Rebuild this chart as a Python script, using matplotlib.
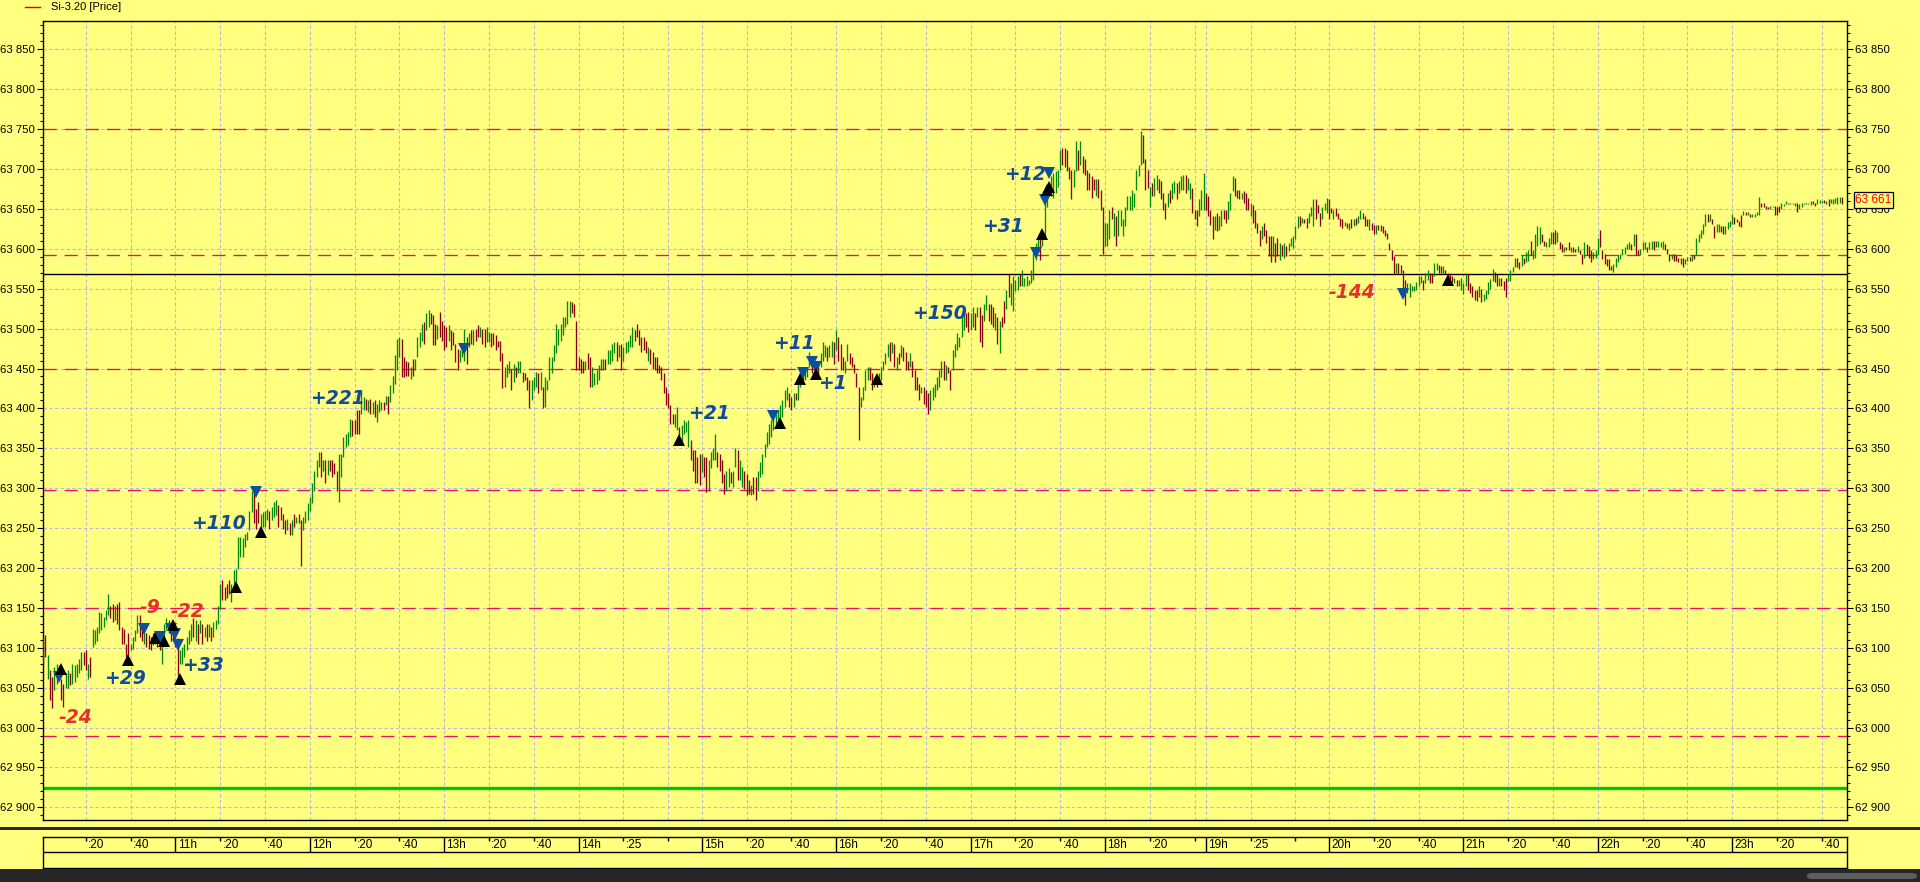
import numpy as np
import matplotlib
matplotlib.use("Agg")
import matplotlib.pyplot as plt
from matplotlib.patches import Rectangle, FancyBboxPatch
from matplotlib.lines import Line2D
from matplotlib.ticker import MultipleLocator, FixedLocator, FuncFormatter

plt.rcParams['font.family'] = ['Liberation Sans', 'DejaVu Sans']

# ---------------- data ----------------
SYMBOL = "Si-3.20 [Price]"
SESSIONS = [("10:00", "14:00"), ("14:05", "18:45"), ("19:05", "23:50")]
FIRST_BAR = "10:01"

HIGH = [
 63112,63116,63091,63072,63063,63076,63080,63078,63061,63055,63068,63072,63068,63080,63078,63080,63086,63095,63095,
 63097,63080,63089,63124,63122,63126,63145,63143,63139,63147,63167,63153,63155,63153,63155,63157,63126,63124,63105,63118,
 63105,63114,63122,63141,63141,63126,63122,63118,63116,63114,63118,63120,63114,63118,63109,63130,63137,63135,63130,63125,
 63118,63112,63097,63101,63105,63114,63122,63130,63137,63135,63130,63135,63130,63126,63130,63130,63126,63132,63135,63153,
 63180,63185,63176,63180,63185,63180,63197,63199,63239,63239,63237,63243,63245,63272,63297,63297,63274,63283,63268,63270,
 63272,63274,63272,63277,63283,63285,63279,63277,63268,63260,63262,63256,63260,63268,63264,63268,63260,63264,63272,63281,
 63289,63306,63322,63335,63345,63345,63335,63335,63335,63335,63335,63331,63322,63343,63343,63364,63368,63370,63387,63385,
 63385,63398,63398,63423,63414,63412,63410,63412,63408,63410,63406,63410,63408,63408,63416,63416,63429,63441,63467,63487,
 63490,63487,63464,63460,63458,63452,63462,63462,63490,63496,63506,63508,63519,63523,63519,63517,63506,63504,63521,63510,
 63504,63502,63504,63498,63496,63481,63475,63473,63477,63500,63490,63494,63498,63498,63500,63504,63502,63500,63500,63502,
 63496,63494,63494,63492,63485,63485,63469,63452,63456,63460,63450,63456,63452,63460,63460,63446,63444,63439,63435,63435,
 63439,63446,63444,63446,63427,63439,63435,63464,63464,63479,63506,63500,63506,63515,63515,63535,63535,63533,63531,63510,
 63464,63462,63460,63460,63469,63464,63452,63444,63448,63454,63462,63462,63462,63473,63473,63481,63483,63483,63479,63481,
 63477,63483,63485,63492,63502,63498,63506,63498,63490,63490,63485,63477,63475,63471,63464,63464,63454,63452,63444,63427,
 63419,63404,63393,63393,63402,63377,63379,63385,63383,63385,63360,63348,63348,63339,63343,63343,63339,63339,63335,63345,
 63350,63368,63345,63343,63335,63318,63322,63325,63320,63322,63350,63348,63335,63327,63322,63318,63310,63304,63314,63314,
 63322,63333,63343,63356,63371,63381,63385,63389,63393,63398,63404,63410,63423,63427,63419,63414,63419,63419,63435,63444,
 63448,63446,63452,63471,63460,63460,63456,63454,63469,63483,63479,63477,63479,63485,63483,63498,63490,63481,63464,63460,
 63481,63469,63464,63456,63444,63427,63414,63427,63448,63452,63452,63444,63439,63439,63444,63452,63460,63469,63481,63483,
 63483,63481,63464,63469,63479,63477,63471,63460,63469,63460,63448,63439,63431,63427,63427,63423,63419,63423,63427,63431,
 63439,63448,63460,63460,63454,63452,63448,63473,63481,63494,63490,63515,63519,63519,63521,63519,63527,63519,63527,63527,
 63517,63531,63542,63531,63531,63527,63519,63515,63510,63515,63534,63549,63568,63557,63566,63561,63566,63568,63574,63563,
 63566,63561,63574,63595,63607,63616,63616,63620,63662,63674,63678,63691,63695,63697,63699,63724,63726,63726,63724,63703,
 63699,63699,63735,63724,63735,63716,63712,63699,63695,63691,63687,63687,63687,63674,63653,63632,63632,63649,63653,63645,
 63641,63649,63649,63637,63653,63666,63666,63674,63670,63699,63705,63748,63743,63712,63699,63678,63682,63689,63693,63687,
 63685,63670,63657,63670,63674,63682,63685,63682,63685,63691,63693,63693,63689,63682,63676,63649,63649,63662,63674,63695,
 63670,63666,63649,63641,63641,63645,63641,63649,63649,63649,63660,63670,63691,63689,63674,63674,63670,63672,63670,63664,
 63657,63655,63649,63632,63624,63628,63632,63624,63616,63616,63616,63607,63614,63607,63605,63607,63603,63607,63614,63616,
 63628,63641,63641,63639,63637,63639,63645,63653,63662,63662,63655,63645,63653,63657,63664,63662,63651,63649,63651,63645,
 63639,63637,63634,63632,63632,63637,63637,63639,63641,63649,63645,63641,63637,63637,63632,63630,63630,63630,63630,63628,
 63624,63620,63607,63599,63591,63582,63582,63580,63574,63561,63557,63557,63553,63553,63559,63566,63566,63561,63570,63574,
 63570,63570,63582,63582,63580,63578,63578,63574,63570,63568,63566,63563,63561,63561,63563,63557,63570,63568,63557,63553,
 63549,63549,63553,63550,63543,63548,63558,63562,63575,63571,63569,63564,63564,63560,63564,63569,63573,63577,63589,63589,
 63583,63592,63589,63596,63598,63610,63598,63619,63629,63627,63619,63610,63608,63614,63621,63621,63623,63621,63608,63606,
 63602,63602,63608,63602,63602,63600,63604,63598,63594,63608,63606,63604,63598,63596,63598,63614,63623,63598,63594,63587,
 63587,63579,63581,63589,63592,63594,63600,63602,63606,63608,63606,63619,63619,63598,63600,63608,63608,63602,63608,63610,
 63610,63610,63610,63608,63610,63606,63600,63594,63594,63594,63592,63589,63589,63589,63587,63590,63590,63592,63592,63614,
 63619,63623,63631,63644,63644,63644,63637,63629,63631,63631,63629,63629,63629,63633,63635,63644,63640,63637,63635,63642,
 63648,63646,63646,63644,63644,63644,63646,63665,63658,63658,63654,63652,63654,63654,63654,63652,63654,63658,63656,63660,
 63658,63658,63658,63658,63658,63656,63658,63658,63658,63658,63660,63660,63658,63662,63661,63660,63661,63660,63662,63662,
 63662,63664,63665,63665,63665,
]

LOW = [
 63080,63089,63061,63034,63024,63047,63055,63061,63034,63026,63049,63049,63053,63055,63057,63063,63068,63072,63078,
 63072,63061,63063,63101,63105,63109,63118,63122,63126,63135,63141,63137,63132,63135,63130,63122,63105,63105,63089,63091,
 63097,63099,63109,63118,63114,63109,63105,63101,63099,63097,63103,63105,63101,63097,63080,63114,63122,63118,63109,63108,
 63101,63057,63080,63080,63089,63097,63105,63109,63114,63109,63105,63118,63105,63114,63109,63114,63109,63114,63124,63130,
 63149,63160,63160,63162,63168,63157,63174,63183,63199,63214,63214,63226,63235,63247,63270,63256,63249,63256,63247,63252,
 63251,63260,63249,63260,63264,63266,63251,63260,63249,63243,63247,63241,63241,63251,63256,63256,63203,63247,63256,63260,
 63272,63281,63297,63314,63327,63314,63322,63306,63316,63322,63314,63318,63297,63283,63314,63339,63352,63354,63364,63366,
 63368,63368,63368,63393,63398,63398,63395,63393,63393,63389,63383,63395,63398,63398,63404,63393,63408,63419,63431,63448,
 63464,63439,63439,63441,63441,63437,63441,63448,63464,63477,63485,63481,63498,63502,63506,63479,63479,63487,63490,63485,
 63473,63477,63485,63473,63479,63458,63448,63458,63464,63460,63456,63477,63481,63479,63485,63490,63490,63481,63477,63483,
 63483,63477,63479,63473,63477,63460,63425,63427,63439,63444,63423,63433,63439,63444,63444,63433,63435,63423,63400,63410,
 63423,63427,63419,63423,63400,63402,63423,63435,63444,63460,63469,63479,63485,63492,63502,63506,63515,63519,63515,63448,
 63448,63444,63444,63448,63450,63427,63427,63429,63431,63435,63448,63448,63450,63456,63456,63460,63469,63460,63464,63448,
 63460,63469,63471,63477,63477,63485,63490,63479,63471,63473,63469,63460,63456,63450,63448,63444,63444,63435,63419,63404,
 63400,63381,63381,63377,63373,63354,63356,63368,63371,63352,63335,63322,63306,63306,63304,63320,63314,63295,63297,63325,
 63335,63335,63327,63322,63306,63293,63297,63302,63306,63302,63327,63310,63310,63302,63299,63291,63293,63291,63293,63285,
 63297,63314,63318,63339,63352,63356,63364,63373,63377,63383,63381,63389,63402,63410,63402,63398,63402,63410,63410,63427,
 63435,63435,63439,63452,63444,63448,63444,63439,63452,63460,63464,63460,63464,63464,63456,63473,63460,63448,63448,63444,
 63460,63456,63452,63444,63427,63360,63402,63410,63423,63435,63435,63423,63427,63427,63433,63435,63448,63456,63464,63460,
 63469,63452,63448,63456,63464,63460,63448,63448,63452,63439,63423,63423,63410,63419,63406,63402,63393,63398,63410,63414,
 63423,63427,63439,63435,63435,63444,63423,63448,63464,63473,63477,63490,63498,63502,63496,63498,63502,63498,63515,63483,
 63477,63510,63523,63510,63506,63502,63498,63481,63469,63502,63507,63524,63540,63530,63522,63547,63549,63553,63553,63553,
 63553,63555,63557,63561,63586,63599,63586,63603,63616,63653,63666,63666,63664,63670,63678,63699,63705,63703,63697,63687,
 63662,63678,63697,63699,63705,63695,63693,63674,63674,63664,63674,63666,63664,63649,63593,63603,63603,63612,63637,63616,
 63603,63616,63628,63616,63628,63649,63649,63649,63653,63674,63691,63705,63708,63674,63676,63653,63666,63666,63674,63670,
 63662,63649,63637,63653,63657,63662,63670,63662,63670,63674,63674,63670,63674,63662,63645,63637,63628,63641,63649,63649,
 63649,63641,63630,63612,63624,63622,63624,63628,63637,63632,63637,63649,63672,63666,63664,63662,63662,63657,63649,63649,
 63641,63632,63626,63620,63603,63612,63616,63607,63591,63584,63591,63584,63591,63586,63591,63589,63591,63597,63603,63601,
 63612,63626,63628,63632,63632,63626,63632,63641,63628,63637,63645,63628,63637,63649,63645,63637,63645,63637,63641,63637,
 63628,63626,63628,63626,63624,63626,63628,63630,63632,63637,63637,63628,63628,63624,63624,63618,63618,63624,63622,63620,
 63616,63612,63599,63586,63568,63570,63568,63570,63547,63530,63545,63540,63547,63547,63549,63553,63557,63549,63557,63561,
 63557,63557,63566,63574,63570,63570,63568,63568,63566,63561,63559,63557,63553,63553,63549,63543,63553,63549,63545,63540,
 63536,63534,63540,63533,63535,63537,63543,63550,63560,63558,63554,63554,63554,63548,63539,63560,63560,63571,63577,63577,
 63575,63579,63581,63583,63585,63592,63587,63589,63604,63606,63608,63604,63602,63602,63606,63606,63606,63608,63600,63596,
 63596,63598,63598,63596,63596,63596,63596,63594,63581,63589,63592,63589,63583,63587,63589,63592,63602,63587,63581,63579,
 63573,63573,63571,63577,63583,63587,63592,63594,63600,63600,63598,63604,63592,63592,63592,63598,63600,63596,63600,63600,
 63598,63602,63602,63602,63600,63598,63594,63585,63587,63585,63585,63583,63581,63577,63581,63585,63585,63585,63587,63592,
 63608,63614,63619,63629,63633,63635,63631,63614,63621,63621,63621,63619,63619,63625,63627,63631,63631,63633,63629,63627,
 63642,63642,63642,63640,63640,63640,63642,63642,63652,63652,63650,63650,63650,63652,63642,63642,63646,63650,63654,63656,
 63656,63656,63656,63654,63646,63650,63652,63656,63656,63656,63655,63656,63654,63656,63657,63657,63658,63656,63654,63658,
 63656,63658,63656,63658,63656,
]

# g = bar closed up, r = bar closed down
DIRECTION = (
 "rrgrrgggrrggrgggggr"
 "rgrggggggggrrgrrrrrr"
 "ggggrrgrrrggrrgggrrr"
 "rrggggggrgrgrgrgrggg"
 "grrrrggggggggggrrrgg"
 "ggrgggrrrrgrgrgrrggg"
 "gggggrgrgrrrrggggggr"
 "rrrggrgrgrgggrgrgggg"
 "grrrrgrggggrggrrrgrr"
 "rrgrrrrgggrgrgrrgrrg"
 "grrrrrrgggrgrggrrrrg"
 "ggrgrggggggggggggrrr"
 "rrrgrrggggggrggggrgr"
 "gggggrrrrrrgrrrrrrrr"
 "rrrggrggggrrrrrgrrgg"
 "ggrrrrggrggrggrrrgrr"
 "ggggggggggggggrrgrgg"
 "rgggrgrrgggrggrgrrrg"
 "grrrrrggggrrgrgggggr"
 "grgrgrrrgrrrrgrrrggg"
 "gggrgrrggggggrrggrgr"
 "rggrrrgrgrrgrggggrgg"
 "ggggggrgggggggggrrrr"
 "rggrgrrrrrrgrrrgggrg"
 "rgggggggggggrrrgrggr"
 "rrrgrggrgggrggrrrggg"
 "rrrrgrggrrgggrrrgrrr"
 "grrrrgrrrrgrrgrgrggg"
 "ggrgrrgggrrrgggrrgrr"
 "rrgrgrgrggrrrgrrgrrr"
 "rrrrrgrrrrgggggggrgg"
 "rrggrrgrrrrgrggggrrr"
 "rrgrgggggrrgrrrggggr"
 "rgrggrggggrrgggrrgrr"
 "grrgrrgrrgrrrgggrrrr"
 "rrggggggggrgrrgggrgg"
 "rggggrrrgrrrrrggrgrg"
 "ggggrgrrggrrggggrrrr"
 "grgrggggrrrrggrrrggg"
 "grggrgggrggrrgggrgrg"
 "ggggr"
)

RED_LEVELS = [63750, 63592, 63450, 63298, 63150, 62990]
BLACK_LEVEL = 63568
GREEN_LEVEL = 62924
LAST_PRICE = 63661

SELL_TIMES = ["10:08", "10:46", "10:53", "10:58", "11:00", "11:01", "11:36", "13:09",
              "15:32", "15:45", "15:49", "15:51", "17:29", "17:33", "17:35", "20:33"]
SELL_PRICES = [63063, 63124, 63114, 63123, 63117, 63103, 63295, 63475,
               63391, 63444, 63458, 63452, 63595, 63661, 63695, 63543]
BUY_TIMES = ["10:09", "10:39", "10:51", "10:55", "10:59", "11:02", "11:27", "11:38",
             "14:50", "15:35", "15:44", "15:51", "16:18", "17:32", "17:34", "17:35", "20:53"]
BUY_PRICES = [63074, 63085, 63112, 63109, 63129, 63061, 63176, 63245,
              63360, 63382, 63437, 63443, 63437, 63619, 63674, 63677, 63561]

RESULT_TEXT = ["-24", "+29", "-9", "-22", "+33", "+110", "+221", "+21", "+11", "+1",
               "+150", "+31", "+12", "-144"]
RESULT_TIMES = ["10:08", "10:28", "10:44", "10:58", "11:03", "11:07", "12:00", "14:54",
                "15:32", "15:52", "16:34", "17:05", "17:15", "20:00"]
RESULT_PRICES = [63013, 63061, 63151, 63145, 63078, 63256, 63412, 63394,
                 63481, 63431, 63519, 63628, 63693, 63545]

TIME_TICKS = ["10:20", "10:40", "11:00", "11:20", "11:40", "12:00", "12:20", "12:40",
              "13:00", "13:20", "13:40", "14:05", "14:25", "14:45", "15:00", "15:20",
              "15:40", "16:00", "16:20", "16:40", "17:00", "17:20", "17:40", "18:00",
              "18:20", "18:40", "19:05", "19:25", "19:45", "20:00", "20:20", "20:40",
              "21:00", "21:20", "21:40", "22:00", "22:20", "22:40", "23:00", "23:20", "23:40"]
TIME_LABELS = [":20", ":40", "11h", ":20", ":40", "12h", ":20", ":40",
               "13h", ":20", ":40", "14h", ":25", "", "15h", ":20",
               ":40", "16h", ":20", ":40", "17h", ":20", ":40", "18h",
               ":20", "", "19h", ":25", "", "20h", ":20", ":40",
               "21h", ":20", ":40", "22h", ":20", ":40", "23h", ":20", ":40"]

PRICE_TICKS = list(range(62900, 63851, 50))

# ---------------- helpers ----------------
W, H = 1920, 882
BG = "#ffff80"
GREEN_BAR = "#008a00"
RED_BAR = "#8b0010"
GRID = "#b8b8dc"
BLUE_TXT = "#134c94"
RED_TXT = "#e5302c"


def minutes(s):
    h, m = s.split(":")
    return int(h) * 60 + int(m)


bar_minutes = []
for a, b in SESSIONS:
    bar_minutes.extend(range(minutes(a), minutes(b)))
index_of = {m: i for i, m in enumerate(bar_minutes)}


def pos(t):
    return index_of[minutes(t)]


if not (len(HIGH) == len(LOW) == len(DIRECTION)):
    raise SystemExit(f"length mismatch {len(HIGH)} {len(LOW)} {len(DIRECTION)}")

x0 = pos(FIRST_BAR)
xs = x0 + np.arange(len(HIGH))
colors = [GREEN_BAR if c == "g" else RED_BAR for c in DIRECTION]

# ---------------- figure ----------------
fig = plt.figure(figsize=(W / 100, H / 100), dpi=100, facecolor=BG)

ax = fig.add_axes([43 / W, 1 - 820 / H, 1804 / W, 799 / H], facecolor=BG)
ax.set_xlim(0.89, 806.25)
ax.set_ylim(62884.2, 63885.5)

# grid
for p in PRICE_TICKS:
    ax.axhline(p, color=GRID, lw=0.8, dashes=(3.0, 2.2), zorder=1)
tick_pos = [pos(t) for t in TIME_TICKS]
for tp in tick_pos:
    ax.axvline(tp, color=GRID, lw=0.8, dashes=(3.0, 2.2), zorder=1)

# levels
for lv in RED_LEVELS:
    ax.axhline(lv, color="#e8106a", lw=0.95, dashes=(10, 6), zorder=2)
ax.axhline(BLACK_LEVEL, color="black", lw=1.0, zorder=2)
ax.axhline(GREEN_LEVEL, color="#00c800", lw=2.4, zorder=2)

# bars
ax.vlines(xs, LOW, HIGH, colors=colors, linewidth=0.95, zorder=3)

# trade markers
ax.plot([pos(t) for t in SELL_TIMES], SELL_PRICES, linestyle="none", marker="v",
        markersize=9, color="#0c4f9e", markeredgewidth=0, zorder=4)
ax.plot([pos(t) for t in BUY_TIMES], BUY_PRICES, linestyle="none", marker="^",
        markersize=9, color="black", markeredgewidth=0, zorder=4)

for txt, t, p in zip(RESULT_TEXT, RESULT_TIMES, RESULT_PRICES):
    ax.text(pos(t), p, txt, color=RED_TXT if txt.startswith("-") else BLUE_TXT,
            fontsize=13.5, fontweight="bold", fontstyle="italic",
            family=["DejaVu Sans"], ha="left", va="center", zorder=5)

# axes styling
ax.set_xticks([])
ax.yaxis.set_major_locator(FixedLocator(PRICE_TICKS))
ax.yaxis.set_minor_locator(MultipleLocator(10))
ax.yaxis.set_major_formatter(FuncFormatter(lambda v, _: f"{int(round(v)):,}".replace(",", " ")))
ax.tick_params(axis="y", which="major", direction="out", length=4.3, width=0.8,
               left=True, right=True, labelleft=True, labelright=True,
               labelsize=8.2, pad=1.5, colors="black")
ax.tick_params(axis="y", which="minor", direction="out", length=2.2, width=0.8,
               left=True, right=True)
for s in ax.spines.values():
    s.set_linewidth(1.0)
    s.set_color("black")

# last price tag
ax.annotate(f"{LAST_PRICE:,}".replace(",", " "), xy=(1, LAST_PRICE),
            xycoords=("axes fraction", "data"), xytext=(6.0, 0), textcoords="offset points",
            ha="left", va="center", fontsize=8.5, color="#ff0000",
            bbox=dict(boxstyle="square,pad=0.15", fc=BG, ec="black", lw=0.9),
            annotation_clip=False, zorder=6)

# legend
fig.add_artist(Line2D([25 / W, 40 / W], [1 - 7 / H, 1 - 7 / H], color="#e00000", lw=1.0))
fig.text(51 / W, 1 - 7 / H, SYMBOL, fontsize=8, va="center", ha="left")

# separator band
fig.add_artist(Rectangle((0, 1 - 830 / H), 1, 3.5 / H, transform=fig.transFigure,
                         color="#2a2a2a", lw=0))

# time axis box
ax2 = fig.add_axes([43 / W, 1 - 868 / H, 1804 / W, 31 / H], facecolor=BG)
ax2.set_xlim(0.89, 806.25)
ax2.set_ylim(0, 31)
ax2.set_xticks([])
ax2.set_yticks([])
for s in ax2.spines.values():
    s.set_linewidth(1.0)
ax2.axhline(16, color="black", lw=1.0)
for tp, lab in zip(tick_pos, TIME_LABELS):
    if lab.endswith("h"):
        ax2.vlines(tp, 16, 31, color="black", lw=1.0)
    else:
        ax2.vlines(tp, 27, 31, color="black", lw=1.0)
    if lab:
        ax2.annotate(lab, xy=(tp, 23.5), xytext=(1.6, 0), textcoords="offset points",
                     ha="left", va="center", fontsize=8.5)

# bottom dark band and scrollbar
fig.add_artist(Rectangle((0, 0), 1, 13.5 / H, transform=fig.transFigure,
                         color="#262626", lw=0))
fig.add_artist(FancyBboxPatch((1807 / W, 3 / H), 110 / W, 6 / H,
                              boxstyle="round,pad=0,rounding_size=0.003",
                              transform=fig.transFigure, fc="#5e5e5e", ec="none"))

fig.savefig("out.png", dpi=100, facecolor=BG)
